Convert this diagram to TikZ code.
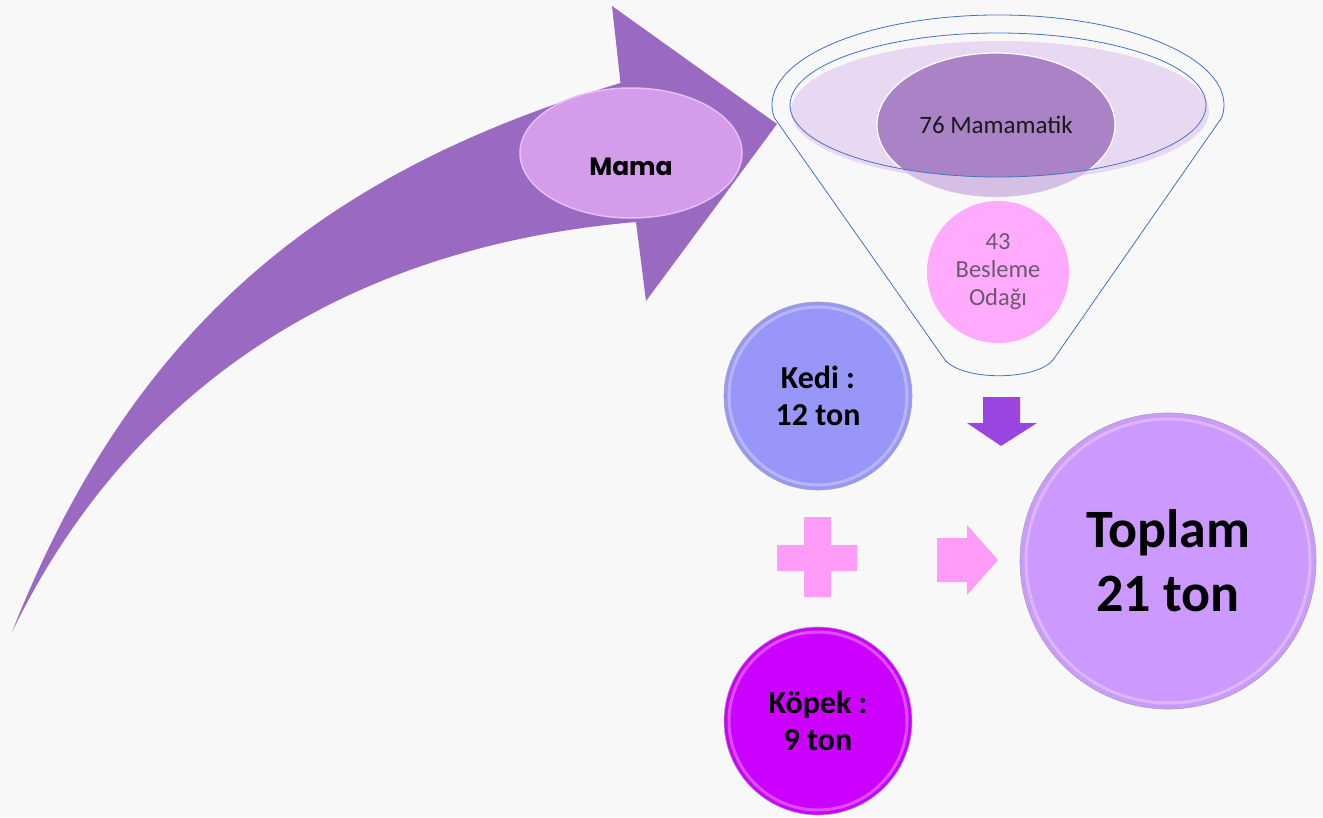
\documentclass[tikz,border=0pt]{standalone}
\usepackage{fontspec}
\setmainfont{Carlito}
\newfontfamily\mamafont{Poppins}
\usetikzlibrary{shapes.geometric}
\definecolor{bg}{HTML}{F8F8F9}
\definecolor{arrowc}{HTML}{9A6AC2}
\definecolor{mamafill}{HTML}{D49CEB}
\definecolor{mamarim}{HTML}{E4C0F2}
\definecolor{funnelfill}{HTML}{E9D8F2}
\definecolor{mmdark}{HTML}{A983C5}
\definecolor{mmlight}{HTML}{D5BFE4}
\definecolor{funnelline}{HTML}{4472C4}
\definecolor{besfill}{HTML}{FFAAFD}
\definecolor{bestext}{HTML}{6B5A6B}
\definecolor{kedifill}{HTML}{9996FA}
\definecolor{kopekfill}{HTML}{CC00FF}
\definecolor{toplamfill}{HTML}{CC99FF}
\definecolor{pinkc}{HTML}{FF9CF8}
\definecolor{downc}{HTML}{9B45E0}
\tikzset{
  ball/.style={circle, draw=black!35, line width=0.6pt, inner sep=0pt, align=center, text=black},
  bevel/.style={white, opacity=0.3, line width=3pt},
  funnelstroke/.style={draw=funnelline, line width=0.8pt},
}
\begin{document}
\begin{tikzpicture}[x=1pt,y=-1pt]
\fill[bg] (0,0) rectangle (1323,817);
\useasboundingbox (0,0) rectangle (1323,817);

% big curved arrow
\fill[arrowc] (12,632) .. controls (135,320) and (330,170) .. (620.5,83)
  -- (612,6) -- (777,124) -- (646,301) -- (636,222)
  .. controls (310,250) and (115,420) .. (12,632) -- cycle;

% Mama ellipse
\node[ellipse, minimum width=222pt, minimum height=130pt, inner sep=0pt,
      fill=mamafill, draw=mamarim, line width=1.5pt] (mama) at (631,153) {};
\node[font=\mamafont\bfseries\fontsize{25}{30}\selectfont] (mamatext) at (631,167) {Mama};

% funnel
\fill[funnelfill] (1000,111) ellipse [x radius=209, y radius=70];
\node[ellipse, minimum width=238pt, minimum height=144pt, inner sep=0pt, fill=mmlight] (mmshape) at (996,125) {};
\begin{scope}
  \clip (998,105) ellipse [x radius=208, y radius=72];
  \fill[mmdark] (996,125) ellipse [x radius=119, y radius=72];
  \draw[white, line width=1.2pt] (996,125) ellipse [x radius=119, y radius=72];
\end{scope}
\node[font=\fontsize{25}{30}\selectfont, text=black!90] (mamamatik) at (996,125) {76 Mamamatik};
\draw[funnelstroke] (945,360) -- (774.2,117.5)
  arc[start angle=172, end angle=368, x radius=226, y radius=90]
  -- (1053,360) .. controls (1035,381) and (963,381) .. (945,360) -- cycle;
\draw[funnelstroke] (998,105) ellipse [x radius=208, y radius=72];

% Besleme
\node[circle, minimum size=142pt, inner sep=0pt, fill=besfill, text=bestext, align=center,
      font=\fontsize{24.5}{28}\selectfont] (besleme) at (998,272) {43\\Besleme\\Odağı};

% Kedi, Kopek, Toplam
\node[ball, minimum size=188pt, fill=kedifill, font=\bfseries\fontsize{32}{37}\selectfont] (kedi) at (818,396) {Kedi :\\12 ton};
\draw[bevel] (kedi.center) circle[radius=89];
\node[ball, minimum size=188pt, fill=kopekfill, font=\bfseries\fontsize{32}{37}\selectfont] (kopek) at (818,721) {Köpek :\\9 ton};
\draw[bevel] (kopek.center) circle[radius=89];
\node[ball, minimum size=296pt, fill=toplamfill, font=\bfseries\fontsize{54}{64}\selectfont] (toplam) at (1168,561) {Toplam\\21 ton};
\draw[bevel] (toplam.center) circle[radius=142];

% plus sign
\fill[pinkc] (804,517) -- (831,517) -- (831,545) -- (857,545) -- (857,571) -- (831,571)
  -- (831,597) -- (804,597) -- (804,571) -- (777,571) -- (777,545) -- (804,545) -- cycle;
% right arrow
\fill[pinkc] (937,538) -- (967,538) -- (967,525) -- (998,560) -- (967,595) -- (967,582) -- (937,582) -- cycle;
% down arrow
\fill[downc] (983,397) -- (1020,397) -- (1020,423) -- (1037,423) -- (1001,446) -- (967,423) -- (983,423) -- cycle;
\end{tikzpicture}
\end{document}
